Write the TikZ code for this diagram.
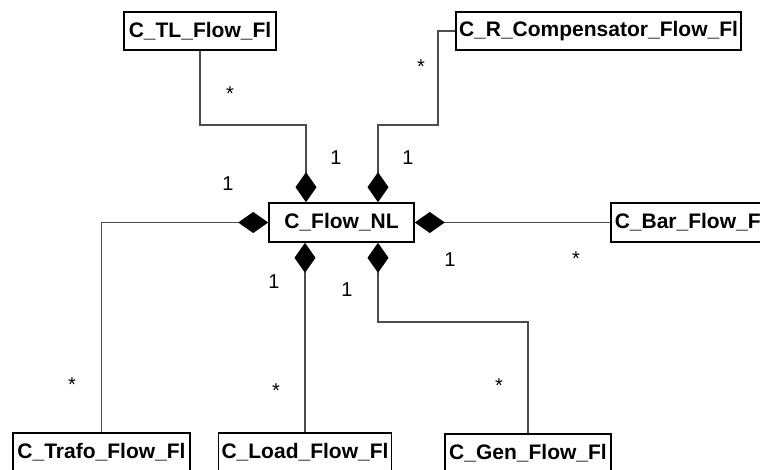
\documentclass[tikz,border=0pt]{standalone}
\usepackage{fontspec}
\setmainfont{Liberation Sans}
\usetikzlibrary{arrows.meta}
\begin{document}
\begin{tikzpicture}[x=1pt,y=-1pt,
 cls/.style={draw=black,line width=1.6pt,fill=white,minimum height=38pt,inner sep=0pt,font=\fontsize{21}{25}\selectfont\bfseries},
 comp/.style={draw=black!70,line width=1.1pt,{Diamond[length=30pt,width=21pt,color=black]}-},
 mult/.style={font=\fontsize{20}{24}\selectfont,inner sep=0pt}]
\path[use as bounding box,clip] (0,0) rectangle (760,470);
\fill[white] (0,0) rectangle (760,470);
% classes
\node[cls,minimum width=145pt,minimum height=39pt] (nl) at (341.5,222.5) {C\_Flow\_NL};
\node[cls,minimum width=152pt] (tl) at (200,31) {C\_TL\_Flow\_Fl};
\node[cls,minimum width=285pt] (rc) at (598.5,31) {C\_R\_Compensator\_Flow\_Fl};
\node[cls,minimum width=170pt,minimum height=39pt,inner xsep=4pt,text width=162pt,align=left,anchor=west] (bar) at (610,222.5) {C\_Bar\_Flow\_F};
\node[cls,minimum width=177pt] (trafo) at (101.5,452) {C\_Trafo\_Flow\_Fl};
\node[cls,minimum width=173pt] (load) at (305,452) {C\_Load\_Flow\_Fl};
\node[cls,minimum width=166pt] (gen) at (528,453) {C\_Gen\_Flow\_Fl};
% compositions
\draw[comp] ([xshift=-35.5pt]nl.north) -- (306,125) -| (tl.south);
\draw[comp] ([xshift=36.5pt]nl.north) -- (378,125) -- (438,125) |- (rc.west);
\draw[comp] (nl.west) -| (trafo.north);
\draw[comp] (nl.east) -- (bar.west);
\draw[comp] ([xshift=-36.5pt]nl.south) -- (load.north);
\draw[comp] ([xshift=36.5pt]nl.south) -- (378,322) -| (gen.north);
% multiplicities
\node[mult] (m1) at (336,158) {1};
\node[mult] (m2) at (408,158) {1};
\node[mult] (m3) at (228,184) {1};
\node[mult] (m4) at (450,260) {1};
\node[mult] (m5) at (274,282) {1};
\node[mult] (m6) at (347,290) {1};
\node[mult] (s1) at (230,94) {*};
\node[mult] (s2) at (421,67) {*};
\node[mult] (s3) at (576,259) {*};
\node[mult] (s4) at (72,385) {*};
\node[mult] (s5) at (276,391) {*};
\node[mult] (s6) at (499,386) {*};
\end{tikzpicture}
\end{document}
